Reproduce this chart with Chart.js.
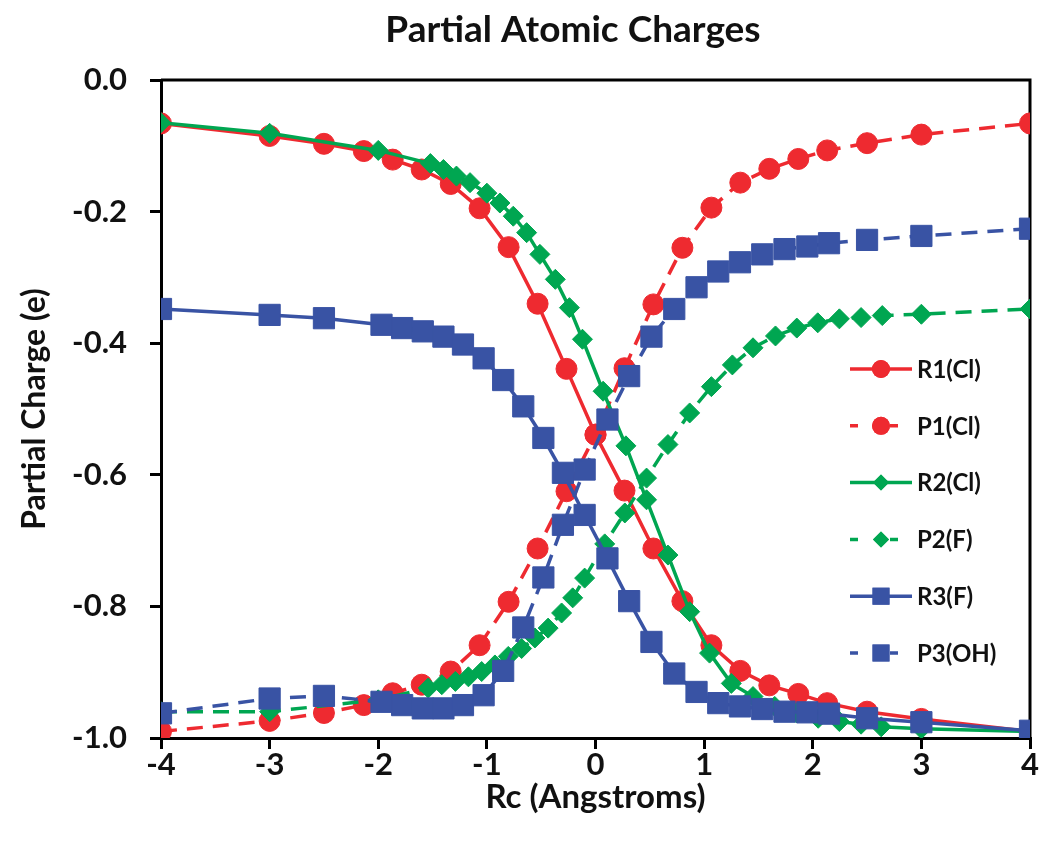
<!DOCTYPE html>
<html><head><meta charset="utf-8">
<script src="https://cdn.jsdelivr.net/npm/chart.js@4.4.1/dist/chart.umd.min.js"></script>
<style>html,body{margin:0;padding:0;background:#fff;}</style>
</head><body>
<canvas id="c" width="1050" height="855"></canvas>
<script>
const chartTitle = 'Partial Atomic Charges';
const xTitle = 'Rc (Angstroms)';
const yTitle = 'Partial Charge (e)';
const seriesNames = ['R1(Cl)', 'P1(Cl)', 'R2(Cl)', 'P2(F)', 'R3(F)', 'P3(OH)'];
const xTicks = [-4, -3, -2, -1, 0, 1, 2, 3, 4];
const yTicks = [0.0, -0.2, -0.4, -0.6, -0.8, -1.0];

const x1 = [-4, -3, -2.5, -2.133, -1.867, -1.6, -1.333, -1.067, -0.8, -0.533, -0.267, 0, 0.267, 0.533, 0.8, 1.067, 1.333, 1.6, 1.867, 2.133, 2.5, 3, 4];
const yR1 = [-0.066, -0.085, -0.097, -0.108, -0.121, -0.136, -0.158, -0.195, -0.254, -0.340, -0.439, -0.539, -0.624, -0.712, -0.792, -0.859, -0.898, -0.920, -0.933, -0.947, -0.960, -0.971, -0.990];
const yP1 = [-0.990, -0.974, -0.962, -0.950, -0.932, -0.919, -0.899, -0.859, -0.793, -0.712, -0.625, -0.539, -0.438, -0.341, -0.255, -0.194, -0.156, -0.135, -0.120, -0.107, -0.096, -0.083, -0.066];

const xR2 = [-4, -3, -2, -1.52, -1.4, -1.28, -1.155, -1.0, -0.88, -0.757, -0.634, -0.512, -0.37, -0.24, -0.12, 0.07, 0.28, 0.47, 0.667, 0.867, 1.05, 1.25, 1.45, 1.65, 1.85, 2.05, 2.245, 2.445, 2.63, 3, 4];
const yR2 = [-0.065, -0.081, -0.107, -0.127, -0.136, -0.146, -0.156, -0.172, -0.187, -0.207, -0.232, -0.265, -0.303, -0.346, -0.394, -0.473, -0.556, -0.638, -0.722, -0.808, -0.871, -0.917, -0.937, -0.952, -0.962, -0.970, -0.975, -0.979, -0.983, -0.986, -0.990];

const xP2 = [-4, -3, -2, -1.54, -1.415, -1.29, -1.17, -1.048, -0.926, -0.803, -0.68, -0.558, -0.436, -0.312, -0.21, -0.1, 0.085, 0.27, 0.47, 0.667, 0.867, 1.067, 1.26, 1.45, 1.657, 1.853, 2.046, 2.245, 2.445, 2.64, 3, 4];
const yP2 = [-0.960, -0.960, -0.942, -0.924, -0.919, -0.914, -0.907, -0.899, -0.889, -0.876, -0.864, -0.848, -0.833, -0.810, -0.787, -0.757, -0.705, -0.658, -0.605, -0.554, -0.506, -0.466, -0.433, -0.407, -0.389, -0.377, -0.369, -0.363, -0.361, -0.358, -0.356, -0.348];

const x3 = [-4, -3, -2.5, -1.97, -1.78, -1.59, -1.4, -1.22, -1.03, -0.85, -0.665, -0.48, -0.3, -0.1, 0.11, 0.31, 0.515, 0.725, 0.93, 1.13, 1.33, 1.535, 1.74, 1.95, 2.15, 2.5, 3, 4];
const yR3 = [-0.348, -0.357, -0.362, -0.372, -0.377, -0.382, -0.390, -0.402, -0.423, -0.456, -0.496, -0.544, -0.597, -0.661, -0.727, -0.792, -0.854, -0.902, -0.930, -0.947, -0.952, -0.956, -0.960, -0.961, -0.963, -0.970, -0.976, -0.989];
const yP3 = [-0.9625, -0.940, -0.936, -0.945, -0.950, -0.955, -0.955, -0.950, -0.935, -0.898, -0.832, -0.756, -0.676, -0.592, -0.516, -0.450, -0.390, -0.348, -0.315, -0.291, -0.277, -0.265, -0.257, -0.253, -0.248, -0.243, -0.237, -0.226];

const RED = '#EE2A30', GREEN = '#00A651', BLUE = '#3953A4';
const FONT = 'Lato';
const DASH = [16, 10];

function pts(xs, ys) { return xs.map((x, i) => ({x: x, y: ys[i]})); }
function mk(name, xs, ys, color, style, radius, dashed, order) {
  return {
    label: name, data: pts(xs, ys),
    borderColor: color, backgroundColor: color,
    pointStyle: style, pointRadius: radius, pointHoverRadius: radius,
    pointBorderWidth: 1, pointBorderColor: color, pointBackgroundColor: color,
    borderWidth: 3.5, borderDash: dashed ? DASH : [],
    tension: 0, fill: false, order: order
  };
}

const datasets = [
  mk(seriesNames[0], x1, yR1, RED, 'circle', 10.5, false, 5),
  mk(seriesNames[1], x1, yP1, RED, 'circle', 10.5, true, 4),
  mk(seriesNames[2], xR2, yR2, GREEN, 'rectRot', 10, false, 3),
  mk(seriesNames[3], xP2, yP2, GREEN, 'rectRot', 10, true, 2),
  mk(seriesNames[4], x3, yR3, BLUE, 'rect', 15, false, 1),
  mk(seriesNames[5], x3, yP3, BLUE, 'rect', 15, true, 0)
];

const decor = {
  id: 'decor',
  beforeDatasetsDraw(chart) {
    const {ctx, chartArea: a} = chart;
    ctx.save();
    ctx.strokeStyle = '#000'; ctx.lineWidth = 3;
    ctx.beginPath();
    ctx.moveTo(a.left, a.top); ctx.lineTo(a.right, a.top); ctx.lineTo(a.right, a.bottom);
    ctx.stroke();
    ctx.restore();
  },
  afterDraw(chart) {
    const {ctx} = chart;
    ctx.save();
    ctx.fillStyle = '#111';
    ctx.font = 'bold 37px ' + FONT;
    ctx.textAlign = 'center'; ctx.textBaseline = 'middle';
    ctx.fillText(chartTitle, 573, 30);
    // legend
    const x0 = 850, x1e = 912, mx = 881, tx = 917;
    ctx.font = 'bold 24px ' + FONT;
    ctx.textAlign = 'left';
    chart.data.datasets.forEach((d, i) => {
      const y = 369 + 56.8 * i;
      ctx.strokeStyle = d.borderColor; ctx.lineWidth = 3.5;
      ctx.beginPath();
      if (d.borderDash.length) {
        ctx.moveTo(x0, y); ctx.lineTo(x0 + 8, y);
        ctx.moveTo(mx + 9, y); ctx.lineTo(mx + 17, y);
      } else {
        ctx.moveTo(x0, y); ctx.lineTo(x1e, y);
      }
      ctx.stroke();
      const r = d.pointStyle === 'rect' ? 12 : (d.pointStyle === 'rectRot' ? 8 : 9);
      ctx.fillStyle = d.backgroundColor;
      Chart.helpers.drawPoint(ctx, {pointStyle: d.pointStyle, radius: r, rotation: 0, borderWidth: 0}, mx, y);
      ctx.fill();
      ctx.fillStyle = '#111';
      ctx.fillText(d.label, tx, y + 1);
    });
    ctx.restore();
  }
};

new Chart(document.getElementById('c'), {
  type: 'line',
  data: {datasets: datasets},
  options: {
    responsive: false, animation: false,
    layout: {padding: {top: 80, right: 20, left: 0, bottom: 0}},
    plugins: {legend: {display: false}, title: {display: false}, tooltip: {enabled: false}},
    scales: {
      x: {
        type: 'linear', min: -4, max: 4,
        afterFit: s => { s.height = 117; },
        afterBuildTicks: s => { s.ticks = xTicks.map(v => ({value: v})); },
        ticks: {font: {family: FONT, size: 31, weight: 'bold'}, color: '#111', padding: -3, maxRotation: 0,
                callback: v => String(v).replace('\u2212', '-')},
        grid: {drawOnChartArea: false, drawTicks: true, tickLength: 11, color: '#000', lineWidth: 3},
        border: {display: true, color: '#000', width: 3},
        title: {display: true, text: xTitle, font: {family: FONT, size: 33, weight: 'bold'}, color: '#111', padding: {bottom: 38, top: 0}}
      },
      y: {
        type: 'linear', min: -1, max: 0,
        afterFit: s => { s.width = 161; },
        afterBuildTicks: s => { s.ticks = yTicks.map(v => ({value: v})); },
        ticks: {font: {family: FONT, size: 31, weight: 'bold'}, color: '#111', padding: 23,
                callback: v => (Math.abs(v) < 1e-9 ? 0 : v).toFixed(1)},
        grid: {drawOnChartArea: false, drawTicks: true, tickLength: 11, color: '#000', lineWidth: 3},
        border: {display: true, color: '#000', width: 3},
        title: {display: true, text: yTitle, font: {family: FONT, size: 32, weight: 'bold'}, color: '#111', padding: {top: 15, bottom: 0}}
      }
    }
  },
  plugins: [decor]
});
</script>
</body></html>
